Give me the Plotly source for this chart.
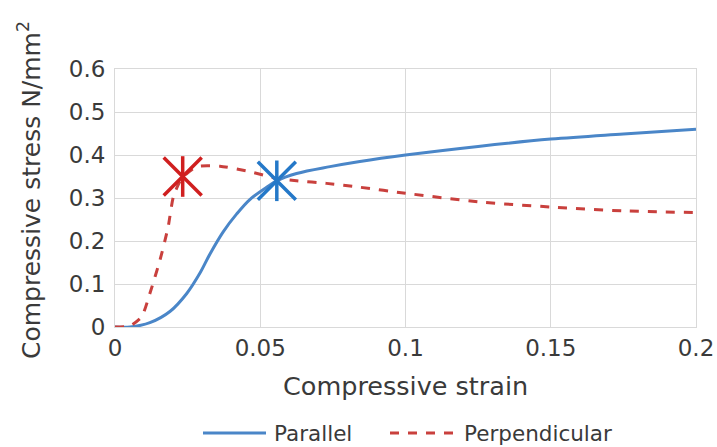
import plotly.graph_objects as go

# Parallel series
par_x = [0, 0.0052, 0.012, 0.0189, 0.0247, 0.0293, 0.0327, 0.0373, 0.0419, 0.0465, 0.0522, 0.0556,
         0.0625, 0.074, 0.0843, 0.1, 0.125, 0.15, 0.175, 0.2]
par_y = [0, 0, 0.010, 0.036, 0.078, 0.126, 0.170, 0.222, 0.263, 0.297, 0.325, 0.340,
         0.357, 0.373, 0.385, 0.400, 0.420, 0.437, 0.449, 0.460]

# Perpendicular series
per_x = [0, 0.0052, 0.0092, 0.012, 0.0155, 0.0183, 0.0201, 0.0229, 0.0281, 0.0361, 0.0465, 0.0556,
         0.0625, 0.0728, 0.0843, 0.1, 0.125, 0.15, 0.175, 0.2]
per_y = [0, 0.003, 0.024, 0.078, 0.156, 0.233, 0.303, 0.345, 0.373, 0.374, 0.361, 0.346,
         0.340, 0.334, 0.325, 0.311, 0.291, 0.279, 0.270, 0.266]

# Marked points (asterisks)
par_mark_x = [0.0557]
par_mark_y = [0.340]
per_mark_x = [0.0233]
per_mark_y = [0.350]

x_ticks = [0, 0.05, 0.1, 0.15, 0.2]
x_tick_labels = ["0", "0.05", "0.1", "0.15", "0.2"]
y_ticks = [0, 0.1, 0.2, 0.3, 0.4, 0.5, 0.6]
y_tick_labels = ["0", "0.1", "0.2", "0.3", "0.4", "0.5", "0.6"]

legend_names = ["Parallel", "Perpendicular"]

FONT = "DejaVu Sans"
TXT = "#3a3a3a"
BLUE = "#4a86c8"
RED = "#c9403d"
BLUE_STAR = "#2478c8"
RED_STAR = "#d01f1f"
GRID = "#d9d9d9"

# page geometry
W, H = 717, 447
ML, MR, MT, MB = 115, 21, 69, 120
PL = ML
PR = W - MR
PB = H - MB
PT = MT


def px(xp):
    return (xp - PL) / (PR - PL)


def py(yp):
    return (PB - yp) / (PB - PT)


fig = go.Figure()
fig.add_trace(go.Scatter(x=par_x, y=par_y, mode="lines", name=legend_names[0], showlegend=False,
                         line=dict(color=BLUE, width=3, shape="spline", smoothing=1.0)))
fig.add_trace(go.Scatter(x=per_x, y=per_y, mode="lines", name=legend_names[1], showlegend=False,
                         line=dict(color=RED, width=3, dash="dash", shape="spline", smoothing=0.6)))

for mx, my, col in [(par_mark_x, par_mark_y, BLUE_STAR), (per_mark_x, per_mark_y, RED_STAR)]:
    fig.add_trace(go.Scatter(x=mx, y=my, mode="markers", showlegend=False,
                             marker=dict(symbol="x-thin-open", size=38,
                                         line=dict(color=col, width=3.5), color=col)))
    fig.add_trace(go.Scatter(x=mx, y=my, mode="markers", showlegend=False,
                             marker=dict(symbol="line-ns-open", size=29,
                                         line=dict(color=col, width=3.5), color=col)))

fig.update_layout(
    width=W, height=H,
    margin=dict(l=ML, r=MR, t=MT, b=MB, autoexpand=False),
    paper_bgcolor="white", plot_bgcolor="white",
    font=dict(family=FONT, size=23, color=TXT),
    showlegend=False,
    xaxis=dict(range=[0, 0.2], tickvals=x_ticks, ticktext=x_tick_labels,
               showgrid=True, gridcolor=GRID, gridwidth=1, automargin=False,
               ticklabeloverflow="allow",
               showline=True, linecolor=GRID, mirror=True, zeroline=False,
               ticks="", tickfont=dict(size=23, color=TXT)),
    yaxis=dict(range=[0, 0.6], tickvals=y_ticks, ticktext=y_tick_labels,
               showgrid=True, gridcolor=GRID, gridwidth=1, automargin=False,
               ticklabeloverflow="allow",
               showline=True, linecolor=GRID, mirror=True, zeroline=False,
               ticks="", ticklabelstandoff=4, tickfont=dict(size=23, color=TXT)),
)

# axis titles
fig.add_annotation(text="Compressive strain", xref="paper", yref="paper",
                   x=px(405), y=py(386), xanchor="center", yanchor="middle", showarrow=False,
                   font=dict(family=FONT, size=25.5, color=TXT))
fig.add_annotation(text="Compressive stress N/mm<sup>2</sup>", textangle=-90,
                   xref="paper", yref="paper", x=px(29), y=py(190),
                   xanchor="center", yanchor="middle", showarrow=False,
                   font=dict(family=FONT, size=25, color=TXT))

# legend (drawn manually to match long sample lines)
ly = py(433)
fig.add_shape(type="line", xref="paper", yref="paper", x0=px(203), x1=px(266), y0=ly, y1=ly,
              line=dict(color=BLUE, width=3))
fig.add_annotation(text=legend_names[0], xref="paper", yref="paper", x=px(272), y=ly,
                   xanchor="left", yanchor="middle", showarrow=False,
                   font=dict(family=FONT, size=21.5, color=TXT))
fig.add_shape(type="line", xref="paper", yref="paper", x0=px(390), x1=px(457), y0=ly, y1=ly,
              line=dict(color=RED, width=3, dash="dash"))
fig.add_annotation(text=legend_names[1], xref="paper", yref="paper", x=px(462), y=ly,
                   xanchor="left", yanchor="middle", showarrow=False,
                   font=dict(family=FONT, size=21.5, color=TXT))

fig.write_html("out.html",
               config={"displayModeBar": False},
               post_script="document.body.style.margin='0';document.body.style.overflow='hidden';")
